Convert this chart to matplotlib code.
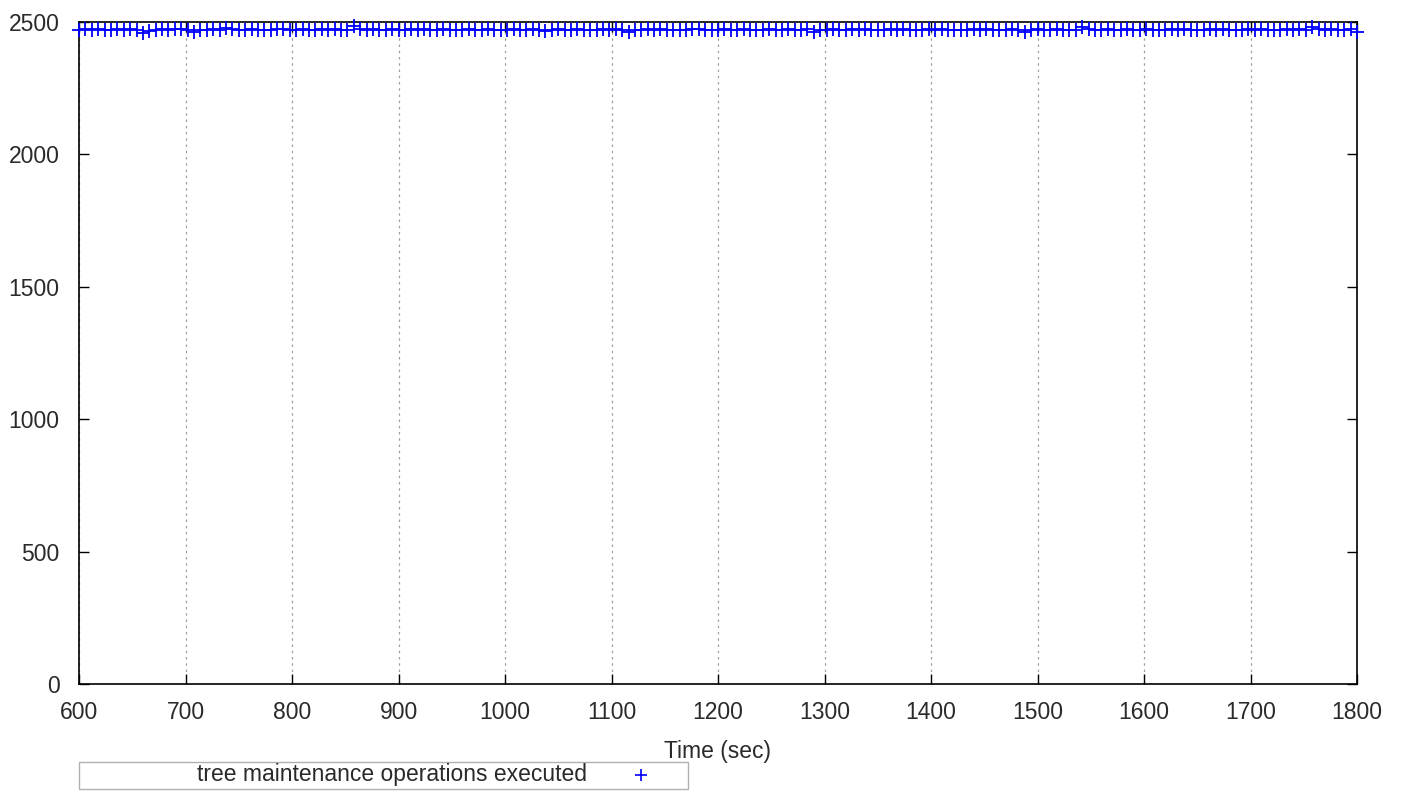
import matplotlib
matplotlib.use("Agg")
import matplotlib.pyplot as plt
from matplotlib.patches import Rectangle
from matplotlib.lines import Line2D

plt.rcParams['font.family'] = ['Liberation Sans', 'DejaVu Sans']

# Sample times (sec), one every 6 s from 600 to 1800
time_start = 600
time_step = 6
ops_executed = [
    2468, 2472, 2470, 2473, 2471, 2469, 2474, 2470, 2472, 2468,
    2460, 2466, 2471, 2473, 2470, 2472, 2475, 2468, 2462, 2470,
    2471, 2473, 2469, 2478, 2472, 2470, 2468, 2473, 2471, 2469,
    2470, 2474, 2472, 2468, 2470, 2473, 2471, 2469, 2472, 2470,
    2473, 2471, 2468, 2485, 2474, 2470, 2472, 2469, 2471, 2473,
    2470, 2468, 2472, 2470, 2474, 2471, 2469, 2472, 2470, 2468,
    2471, 2473, 2470, 2469, 2472, 2470, 2468, 2471, 2473, 2470,
    2469, 2472, 2470, 2466, 2471, 2473, 2470, 2468, 2472, 2469,
    2471, 2470, 2473, 2469, 2472, 2470, 2461, 2468, 2471, 2473,
    2470, 2472, 2469, 2471, 2470, 2468, 2472, 2473, 2470, 2469,
    2471, 2473, 2470, 2468, 2472, 2470, 2471, 2469, 2473, 2470,
    2468, 2472, 2470, 2471, 2473, 2462, 2468, 2470, 2472, 2471,
    2469, 2473, 2470, 2472, 2468, 2471, 2470, 2473, 2469, 2472,
    2470, 2471, 2468, 2473, 2470, 2472, 2469, 2471, 2470, 2468,
    2472, 2470, 2473, 2471, 2469, 2470, 2472, 2468, 2463, 2470,
    2472, 2471, 2469, 2473, 2470, 2468, 2471, 2480, 2473, 2470,
    2469, 2472, 2470, 2471, 2473, 2468, 2470, 2472, 2469, 2471,
    2470, 2473, 2468, 2472, 2470, 2471, 2469, 2473, 2470, 2472,
    2468, 2471, 2470, 2473, 2469, 2472, 2470, 2471, 2468, 2473,
    2470, 2472, 2469, 2480, 2474, 2470, 2472, 2471, 2469, 2473,
    2462,
]
times = [time_start + i * time_step for i in range(len(ops_executed))]

x_ticks = [600, 700, 800, 900, 1000, 1100, 1200, 1300, 1400, 1500, 1600, 1700, 1800]
y_ticks = [0, 500, 1000, 1500, 2000, 2500]
x_label = "Time (sec)"
legend_label = "tree maintenance operations executed"

text_color = '#2a2a2a'
fs = 16.5

fig = plt.figure(figsize=(14.05, 7.93), dpi=100)
ax = fig.add_axes([79 / 1405, 1 - 684 / 793, (1357 - 79) / 1405, (684 - 22) / 793])

ax.plot(times, ops_executed, linestyle='none', marker='+', color='#0000ff',
        markersize=10, markeredgewidth=1.3, clip_on=False, zorder=3)

ax.set_xlim(600, 1800)
ax.set_ylim(0, 2500)
ax.set_xticks(x_ticks)
ax.set_yticks(y_ticks)
ax.tick_params(direction='in', length=7, width=1, top=True, right=True,
               labelsize=fs, colors='black', labelcolor=text_color)
ax.tick_params(axis='y', pad=14)
ax.tick_params(axis='x', pad=12)
for sp in ax.spines.values():
    sp.set_linewidth(1.2)
    sp.set_color('black')
ax.xaxis.grid(True, linestyle=(0, (2, 3)), color='#a0a0a0', linewidth=0.9)
ax.set_axisbelow(True)
ax.set_xlabel(x_label, fontsize=fs, labelpad=12, color=text_color)

# legend box (gnuplot style, below plot)
fig.patches.append(Rectangle((79 / 1405, 1 - 789 / 793), (688 - 79) / 1405, 27 / 793,
                             transform=fig.transFigure, facecolor='white',
                             edgecolor='#b0b0b0', linewidth=1.0))
fig.text(392 / 1405, 1 - 775 / 793, legend_label, ha='center', va='center',
         fontsize=fs, color=text_color)
fig.lines.append(Line2D([641 / 1405], [1 - 775 / 793], transform=fig.transFigure,
                        marker='+', color='#0000ff', markersize=9, markeredgewidth=1.2,
                        linestyle='none'))

fig.savefig("out.png", dpi=100)
